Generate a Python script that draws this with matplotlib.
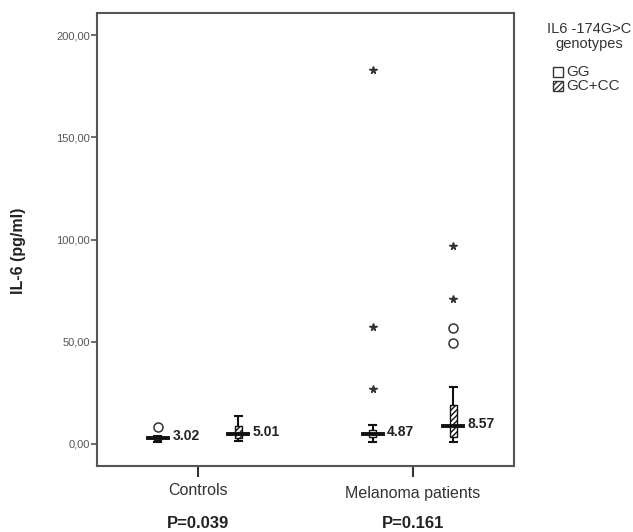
import numpy as np
import matplotlib.pyplot as plt
import matplotlib.patches as mpatches

plt.rcParams['font.family'] = ['Liberation Sans', 'DejaVu Sans']

groups = ['Controls', 'Melanoma patients']
pvalues = ['P=0.039', 'P=0.161']
genotypes = ['GG', 'GC+CC']

# box summaries per group, per genotype (GG, GC+CC)
medians = [[3.02, 5.01], [4.87, 8.57]]
q1 = [[2.0, 3.0], [3.3, 3.5]]
q3 = [[3.8, 9.0], [6.8, 19.0]]
whislo = [[1.2, 1.5], [0.8, 1.0]]
whishi = [[3.8, 13.7], [9.3, 28.0]]
outliers = [[[8.3], []], [[], [49.5, 56.9]]]
extremes = [[[], []], [[27.1, 57.0, 182.9], [70.7, 96.6]]]

offset = 0.188
box_w = 0.033
med_w = 0.093
cap_w = 0.03
edge = '#111111'

fig = plt.figure(figsize=(6.33, 5.32), dpi=100)
ax = fig.add_axes([0.1532, 0.124, 0.6588, 0.8515])

for gi, g in enumerate(groups):
    for k in range(2):
        x = gi + 1 + (-offset if k == 0 else offset)
        hatch = None if k == 0 else '//////'
        ax.add_patch(mpatches.Rectangle((x - box_w / 2, q1[gi][k]), box_w,
                                        q3[gi][k] - q1[gi][k], facecolor='white',
                                        edgecolor=edge, hatch=hatch, lw=1.0, zorder=3))
        ax.plot([x, x], [whislo[gi][k], q1[gi][k]], color=edge, lw=1.5, zorder=2)
        ax.plot([x, x], [q3[gi][k], whishi[gi][k]], color=edge, lw=1.5, zorder=2)
        for w in (whislo[gi][k], whishi[gi][k]):
            ax.plot([x - cap_w / 2, x + cap_w / 2], [w, w], color=edge, lw=1.5, zorder=2)
        ax.plot([x - med_w / 2, x + med_w / 2], [medians[gi][k]] * 2,
                color=edge, lw=2.8, zorder=4)
        ax.text(x + 0.068, medians[gi][k] + 1.0, '%.2f' % medians[gi][k],
                fontsize=10, fontweight='bold', va='center', ha='left', color='#222222')
        if outliers[gi][k]:
            ax.plot([x] * len(outliers[gi][k]), outliers[gi][k], 'o', mfc='white',
                    mec='#333333', ms=6.5, mew=1.1, zorder=5)
        if extremes[gi][k]:
            ax.plot([x] * len(extremes[gi][k]), extremes[gi][k], '*', color='#333333',
                    ms=5.5, zorder=5)

ax.set_xlim(0.530, 2.470)
ax.set_ylim(-10.8, 210.8)
ax.set_yticks([0, 50, 100, 150, 200])
ax.set_yticklabels(['%d,00' % v for v in [0, 50, 100, 150, 200]],
                   fontsize=8, color='#555555')
ax.set_xticks([1, 2])
ax.set_xticklabels([])
ax.tick_params(axis='y', length=4, width=1.2, color='#555555', pad=1)
ax.tick_params(axis='x', length=8, width=1.5, color='#333333')
for s in ax.spines.values():
    s.set_color('#555555')
    s.set_linewidth(1.5)

label_y = [-0.053, -0.06]
for gi, g in enumerate(groups):
    ax.text(gi + 1, label_y[gi], g, transform=ax.get_xaxis_transform(), ha='center',
            va='center', fontsize=11.5, color='#333333')
    ax.text(gi + 1, -0.126, pvalues[gi], transform=ax.get_xaxis_transform(),
            ha='center', va='center', fontsize=12, fontweight='bold', color='#222222')

fig.text(19 / 633, 1 - 251 / 532, 'IL-6 (pg/ml)', rotation=90, ha='center',
         va='center', fontsize=11.5, fontweight='bold', color='#222222')

# legend, drawn by hand next to the axes
fig.text(589 / 633, 1 - 36.5 / 532, 'IL6 -174G>C\ngenotypes', ha='center', va='center',
         fontsize=10.5, color='#333333', linespacing=1.1)
leg_rows = [1 - 72 / 532, 1 - 86 / 532]
for i, name in enumerate(genotypes):
    fig.patches.append(mpatches.Rectangle((553 / 633, leg_rows[i] - 5 / 532), 10 / 633,
                                          10 / 532, transform=fig.transFigure,
                                          facecolor='white', edgecolor='#333333', lw=1.0,
                                          hatch=None if i == 0 else '//////'))
    fig.text(566 / 633, leg_rows[i], name, ha='left', va='center', fontsize=11,
             color='#333333')

fig.savefig('out.png', dpi=100)
